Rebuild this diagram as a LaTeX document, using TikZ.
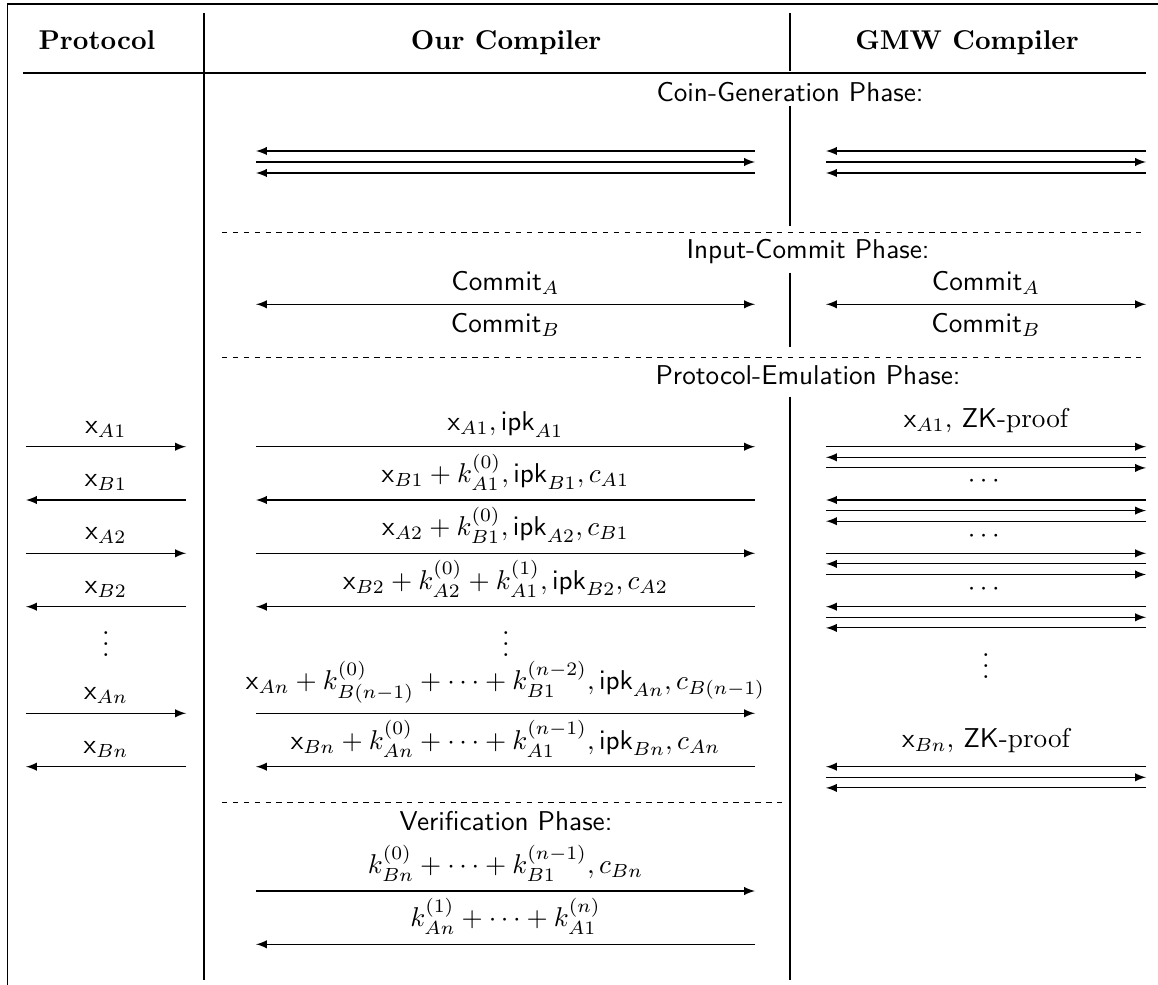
\documentclass[tikz,border=0pt]{standalone}
\usepackage{amsmath}
\usepackage{amssymb}
\usetikzlibrary{arrows,positioning}

\begin{document}
\begin{tikzpicture}
	[x=0.3676pt,y=-0.3676pt,>=latex,
		head/.style={anchor=base,font=\bfseries},
		phase/.style={anchor=base,font=\sffamily},
		lbl/.style={above},
		dots/.style={inner sep=0pt},
		sep/.style={dash pattern=on 2pt off 2pt}]

	\useasboundingbox (0,0) rectangle (1158,985);

	% frame and column rules
	\draw (7.3,4) -- (1158,4) (7.3,4) -- (7.3,985);
	\draw (23,73) -- (1146,73);
	\draw (204,13) -- (204,980);
	\draw (790,13) -- (790,71) (790,106) -- (790,226) (790,272.7) -- (790,346.7) (790,396.7) -- (790,980);
	\draw[sep] (222,232.3) -- (1146,232.3) (222,357.7) -- (1146,357.7) (222,802.7) -- (786,802.7);

	\node[head] (hProto) at (97,50) {Protocol};
	\node[head] (hOur) at (506,50) {Our Compiler};
	\node[head] (hGMW) at (967,50) {GMW Compiler};

	\node[phase] (coinPh) at (790,101.7) {Coin-Generation Phase:};
	\node[phase] (commitPh) at (808,258.3) {Input-Commit Phase:};
	\node[phase] (emuPh) at (808,385) {Protocol-Emulation Phase:};
	\node[phase] (verPh) at (506,830) {Verification Phase:};

	% coin generation
	\foreach \n/\y in {1/151,2/162,3/173} {
		\coordinate (coinOL\n) at (256,\y);
		\coordinate (coinOR\n) at (755,\y);
		\coordinate (coinGL\n) at (826,\y);
		\coordinate (coinGR\n) at (1146,\y);
	}
	\path[->]
	(coinOR1) edge (coinOL1) (coinOL2) edge (coinOR2) (coinOR3) edge (coinOL3)
	(coinGR1) edge (coinGL1) (coinGL2) edge (coinGR2) (coinGR3) edge (coinGL3);

	% input commit
	\coordinate (comOL) at (256,304.3);
	\coordinate (comOR) at (755,304.3);
	\coordinate (comGL) at (826,304.3);
	\coordinate (comGR) at (1146,304.3);
	\path[<->]
	(comOL) edge node[above] {$\mathsf{Commit}_A$} node[below] {$\mathsf{Commit}_B$} (comOR)
	(comGL) edge node[above] {$\mathsf{Commit}_A$} node[below] {$\mathsf{Commit}_B$} (comGR);

	% protocol emulation
	\foreach \n/\y in {1/446.7,2/500,3/553.3,4/606.7,5/713.3,6/766.7} {
		\coordinate (protoL\n) at (26,\y);
		\coordinate (protoR\n) at (186,\y);
		\coordinate (ourL\n) at (256,\y);
		\coordinate (ourR\n) at (755,\y);
	}
	\path[->]
	(protoL1) edge node[lbl] {$\mathsf{x}_{A1}$} (protoR1)
	(protoR2) edge node[lbl] {$\mathsf{x}_{B1}$} (protoL2)
	(protoL3) edge node[lbl] {$\mathsf{x}_{A2}$} (protoR3)
	(protoR4) edge node[lbl] {$\mathsf{x}_{B2}$} (protoL4)
	(protoL5) edge node[lbl] {$\mathsf{x}_{An}$} (protoR5)
	(protoR6) edge node[lbl] {$\mathsf{x}_{Bn}$} (protoL6)
	(ourL1) edge node[lbl] {$\mathsf{x}_{A1}, \mathsf{ipk}_{A1}$} (ourR1)
	(ourR2) edge node[lbl] {$\mathsf{x}_{B1} + k^{(0)}_{A1}, \mathsf{ipk}_{B1}, c_{A1}$} (ourL2)
	(ourL3) edge node[lbl] {$\mathsf{x}_{A2} + k^{(0)}_{B1}, \mathsf{ipk}_{A2}, c_{B1}$} (ourR3)
	(ourR4) edge node[lbl] {$\mathsf{x}_{B2} + k^{(0)}_{A2} + k^{(1)}_{A1}, \mathsf{ipk}_{B2}, c_{A2}$} (ourL4)
	(ourL5) edge node[lbl] {$\mathsf{x}_{An} + k^{(0)}_{B(n-1)} + \cdots + k^{(n-2)}_{B1}, \mathsf{ipk}_{An}, c_{B(n-1)}$} (ourR5)
	(ourR6) edge node[lbl] {$\mathsf{x}_{Bn} + k^{(0)}_{An} + \cdots + k^{(n-1)}_{A1}, \mathsf{ipk}_{Bn}, c_{An}$} (ourL6);
	\node[dots] (protoDots) at (106,636) {$\vdots$};
	\node[dots] (ourDots) at (506,636) {$\vdots$};

	% GMW: three messages per round
	\foreach \g/\y in {1/446.7,2/500,3/553.3,4/606.7,6/766.7} {
		\coordinate (gmw\g-aL) at (826,\y);
		\coordinate (gmw\g-aR) at (1146,\y);
		\coordinate (gmw\g-bL) at (826,\y+10.6);
		\coordinate (gmw\g-bR) at (1146,\y+10.6);
		\coordinate (gmw\g-cL) at (826,\y+21.2);
		\coordinate (gmw\g-cR) at (1146,\y+21.2);
		\coordinate (gmw\g-m) at (986,\y);
	}
	\foreach \g/\s/\e in {1/L/R,2/R/L,3/L/R,4/R/L,6/R/L}
		\path[->] (gmw\g-a\s) edge (gmw\g-a\e) (gmw\g-b\e) edge (gmw\g-b\s) (gmw\g-c\s) edge (gmw\g-c\e);
	\node[above=1.5pt of gmw1-m] (zkA) {$\mathsf{x}_{A1}$, $\mathsf{ZK}$-proof};
	\node[above=1.5pt of gmw6-m] (zkB) {$\mathsf{x}_{Bn}$, $\mathsf{ZK}$-proof};
	\node[dots] (gmwDots1) at (986,481) {$\cdots$};
	\node[dots] (gmwDots2) at (986,536) {$\cdots$};
	\node[dots] (gmwDots3) at (986,589) {$\cdots$};
	\node[dots] (gmwDots4) at (986,658) {$\vdots$};

	% verification
	\coordinate (verL1) at (256,891);
	\coordinate (verR1) at (755,891);
	\coordinate (verL2) at (256,944.3);
	\coordinate (verR2) at (755,944.3);
	\path[->]
	(verL1) edge node[lbl] {$k^{(0)}_{Bn} + \cdots + k^{(n-1)}_{B1}, c_{Bn}$} (verR1)
	(verR2) edge node[lbl] {$k^{(1)}_{An} + \cdots + k^{(n)}_{A1}$} (verL2);

\end{tikzpicture}
\end{document}
